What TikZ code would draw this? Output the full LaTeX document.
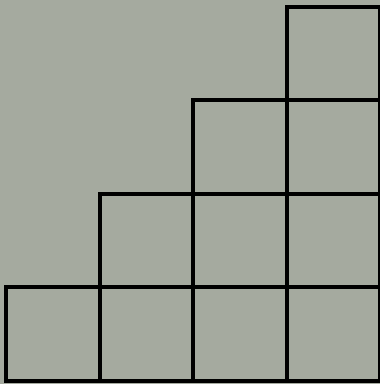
\documentclass[tikz,border=0pt]{standalone}
\usepackage{tikz}
\usetikzlibrary{positioning}
\definecolor{paper}{RGB}{165,170,159}
\tikzset{cell/.style={draw=black, line width=4pt}}

\begin{document}
\begin{tikzpicture}[x=1pt,y=-1pt]
\fill[paper] (0,0) rectangle (380,384);
\useasboundingbox (0,0) rectangle (380,384);
% staircase of squares, row r holds columns r..3
\foreach \r in {0,...,3}{
  \foreach \c in {\r,...,3}{
    \draw[cell] ({6+93.5*\c},{380.5-93.5*(\r+1)}) rectangle ++(93.5,93.5);
  }
}
\end{tikzpicture}
\end{document}
